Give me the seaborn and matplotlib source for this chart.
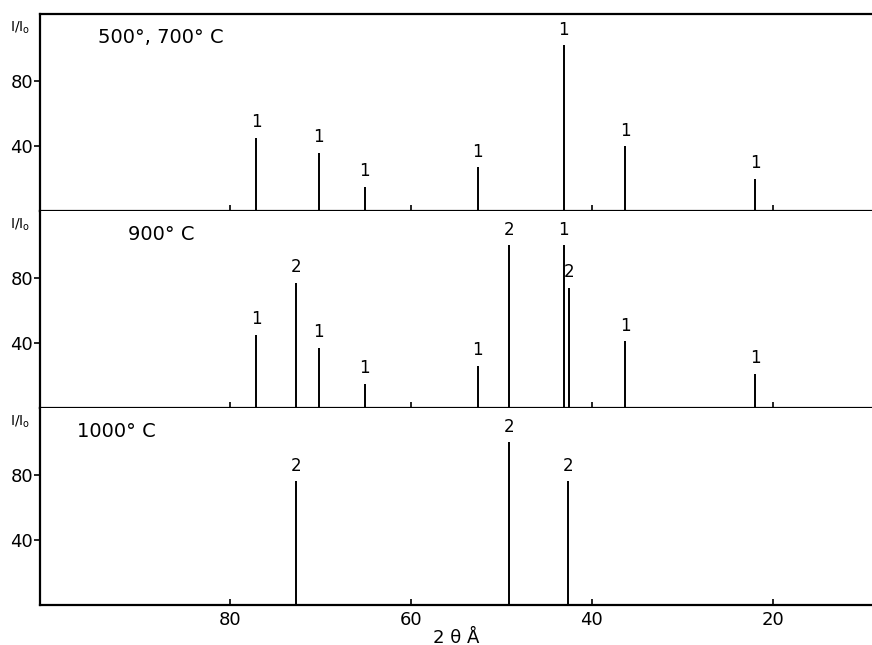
import matplotlib
matplotlib.use("Agg")
import matplotlib.pyplot as plt
import seaborn as sns

# peak positions (2 theta), relative intensities and phase labels per temperature
pos_700 = [77.1, 70.2, 65.1, 52.6, 43.1, 36.3, 21.9]
int_700 = [45, 36, 15, 27, 102, 40, 20]
lab_700 = ['1', '1', '1', '1', '1', '1', '1']

pos_900 = [77.1, 72.7, 70.2, 65.1, 52.6, 49.1, 43.1, 42.5, 36.3, 21.9]
int_900 = [45, 77, 37, 15, 26, 100, 100, 74, 41, 21]
lab_900 = ['1', '2', '1', '1', '1', '2', '1', '2', '1', '1']

pos_1000 = [72.7, 49.1, 42.6]
int_1000 = [76, 100, 76]
lab_1000 = ['2', '2', '2']

titles = ['500°, 700° C', '900° C', '1000° C']
title_x = [0.069, 0.106, 0.044]
panels = [(pos_700, int_700, lab_700), (pos_900, int_900, lab_900), (pos_1000, int_1000, lab_1000)]

sns.set_style("ticks")
plt.rcParams['font.family'] = ['DejaVu Sans']
plt.rcParams['text.color'] = 'black'
plt.rcParams['xtick.color'] = 'black'
plt.rcParams['ytick.color'] = 'black'
plt.rcParams['axes.labelcolor'] = 'black'

fig, axes = plt.subplots(3, 1, figsize=(8.72, 6.45), dpi=100, sharex=True)
fig.subplots_adjust(left=0.046, right=1.0, bottom=0.062, top=0.978, hspace=0)

for i, ax in enumerate(axes):
    pos, inten, lab = panels[i]
    ax.vlines(pos, 0, inten, color='black', linewidth=1.4)
    for x, y, t in zip(pos, inten, lab):
        ax.text(x, y + 4, t, ha='center', va='bottom', fontsize=12)
    ax.set_xlim(101, 9)
    ax.set_ylim(0, 121)
    ax.set_yticks([40, 80])
    ax.set_xticks([80, 60, 40, 20])
    ax.tick_params(axis='y', direction='out', length=4, width=1.2, labelsize=13, pad=1)
    ax.tick_params(axis='x', direction='in', length=4, width=1.2, labelsize=13, pad=4)
    for s in ['left', 'bottom', 'top']:
        ax.spines[s].set_linewidth(1.6)
        ax.spines[s].set_color('black')
    ax.spines['right'].set_visible(False)
    if i > 0:
        ax.spines['top'].set_visible(False)
    ax.text(title_x[i], 0.88, titles[i], transform=ax.transAxes, fontsize=14, va='center', ha='left')
    ax.text(-0.024, 0.93, r'I/I$_\mathrm{o}$', transform=ax.transAxes, fontsize=10, va='center', ha='center')

axes[-1].set_xlabel('2 θ Å', fontsize=13, labelpad=0)

fig.savefig('out.png', dpi=100, facecolor='white')
